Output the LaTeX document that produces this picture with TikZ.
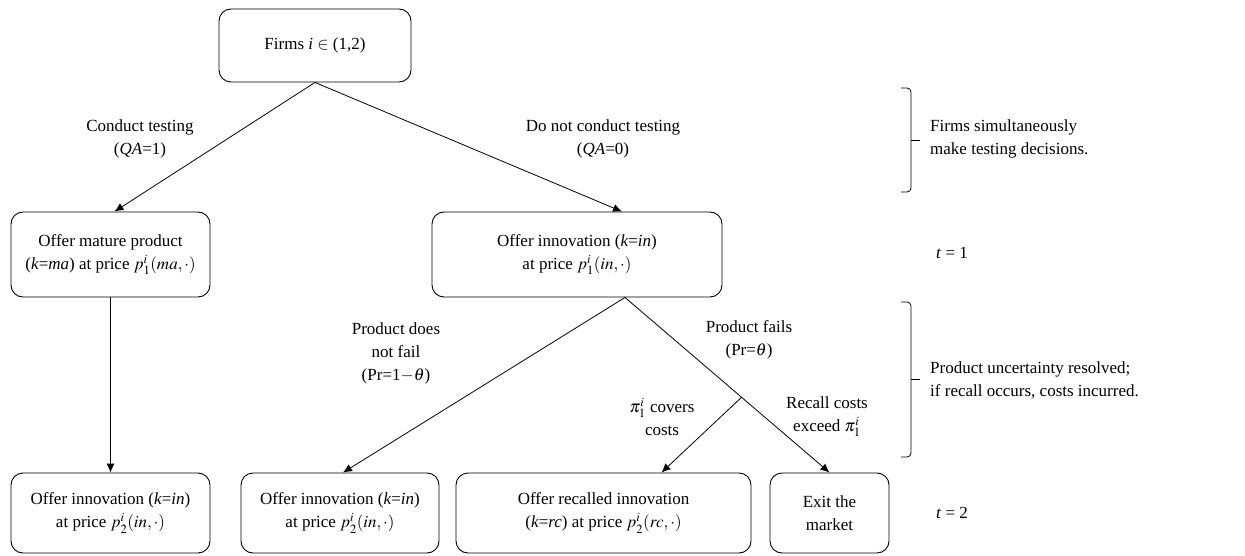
\documentclass[tikz,border=0pt]{standalone}
\usepackage{mathptmx}
\usepackage{fontspec}
\setmainfont{Liberation Serif}
\usetikzlibrary{arrows.meta, positioning, calc}

\begin{document}
\begin{tikzpicture}[x=1pt, y=-1pt, font=\fontsize{17}{23}\selectfont]
        \tikzstyle{stage} = [rectangle, rounded corners=12pt, minimum height=80pt, text centered, align=center, draw=black, line width=0.9pt]
        \tikzstyle{note} = [align=center, inner sep=0pt]
        \tikzstyle{side} = [align=left, anchor=west, inner sep=0pt]
        \tikzstyle{bracket} = [line width=0.8pt, rounded corners=4pt]
        \tikzstyle{arrow} = [line width=0.8pt, -{Latex[length=9pt,width=8pt]}]

        \useasboundingbox (0,0) rectangle (1245,556);

        % stages
        \node (firms) [stage, minimum width=192pt, minimum height=73pt] at (315,45.5) {Firms \textit{i} $\in$ (1,2)};
        \node (mature) [stage, minimum width=199pt, minimum height=85pt] at (110.5,254.5) {Offer mature product\\(\textit{k}=\textit{ma}) at price $p_1^i(ma,\cdot)$};
        \node (innov) [stage, minimum width=290pt, minimum height=85pt] at (577,254.5) {Offer innovation (\textit{k}=\textit{in})\\at price $p_1^i(in,\cdot)$};
        \node (offerA) [stage, minimum width=199pt] at (110.5,513) {Offer innovation (\textit{k}=\textit{in})\\at price $p_2^i(in,\cdot)$};
        \node (offerB) [stage, minimum width=198pt] at (340,513) {Offer innovation (\textit{k}=\textit{in})\\at price $p_2^i(in,\cdot)$};
        \node (recall) [stage, minimum width=295pt] at (603.5,513) {Offer recalled innovation\\(\textit{k}=\textit{rc}) at price $p_2^i(rc,\cdot)$};
        \node (exit) [stage, minimum width=119pt] at (829.5,513) {Exit the\\market};

        % branch labels
        \node (conduct) [note] at (140,139) {Conduct testing\\(\textit{QA}=1)};
        \node (noconduct) [note] at (603,139) {Do not conduct testing\\(\textit{QA}=0)};
        \node (nofail) [note] at (396,353) {Product does\\not fail\\(Pr=1$-\theta$)};
        \node (fails) [note] at (749,340) {Product fails\\(Pr=\textit{$\theta$})};
        \node (covers) [note] at (662,417) {$\pi_1^i$ covers\\costs};
        \node (exceed) [note] at (827,417) {Recall costs\\exceed $\pi_1^i$};

        % timeline notes
        \node (simult) [side] at (930,139) {Firms simultaneously\\make testing decisions.};
        \node (resolved) [side] at (930,380) {Product uncertainty resolved;\\if recall occurs, costs incurred.};
        \node (t1) [side] at (936,253) {\textit{t} = 1};
        \node (t2) [side] at (936,513) {\textit{t} = 2};

        \draw [bracket] (901,88) -- (911,88) -- (911,192) -- (901,192);
        \draw [line width=0.8pt] (911,140) -- (920,140);
        \draw [bracket] (901,302) -- (911,302) -- (911,457) -- (901,457);
        \draw [line width=0.8pt] (911,379) -- (920,379);

        % connectors
        \coordinate (fork) at ([xshift=48pt]innov.south);
        \coordinate (split) at ($(fork)!0.57!(exit.north)$);
        \draw [arrow] (firms.south) -- ([xshift=4pt]mature.north);
        \draw [arrow] (firms.south) -- ([xshift=45pt]innov.north);
        \draw [arrow] (mature) -- (offerA);
        \draw [arrow] (fork) -- ([xshift=3pt]offerB.north);
        \draw [arrow] (fork) -- (exit.north);
        \draw [arrow] (split) -- ([xshift=58pt]recall.north);
    \end{tikzpicture}
\end{document}
